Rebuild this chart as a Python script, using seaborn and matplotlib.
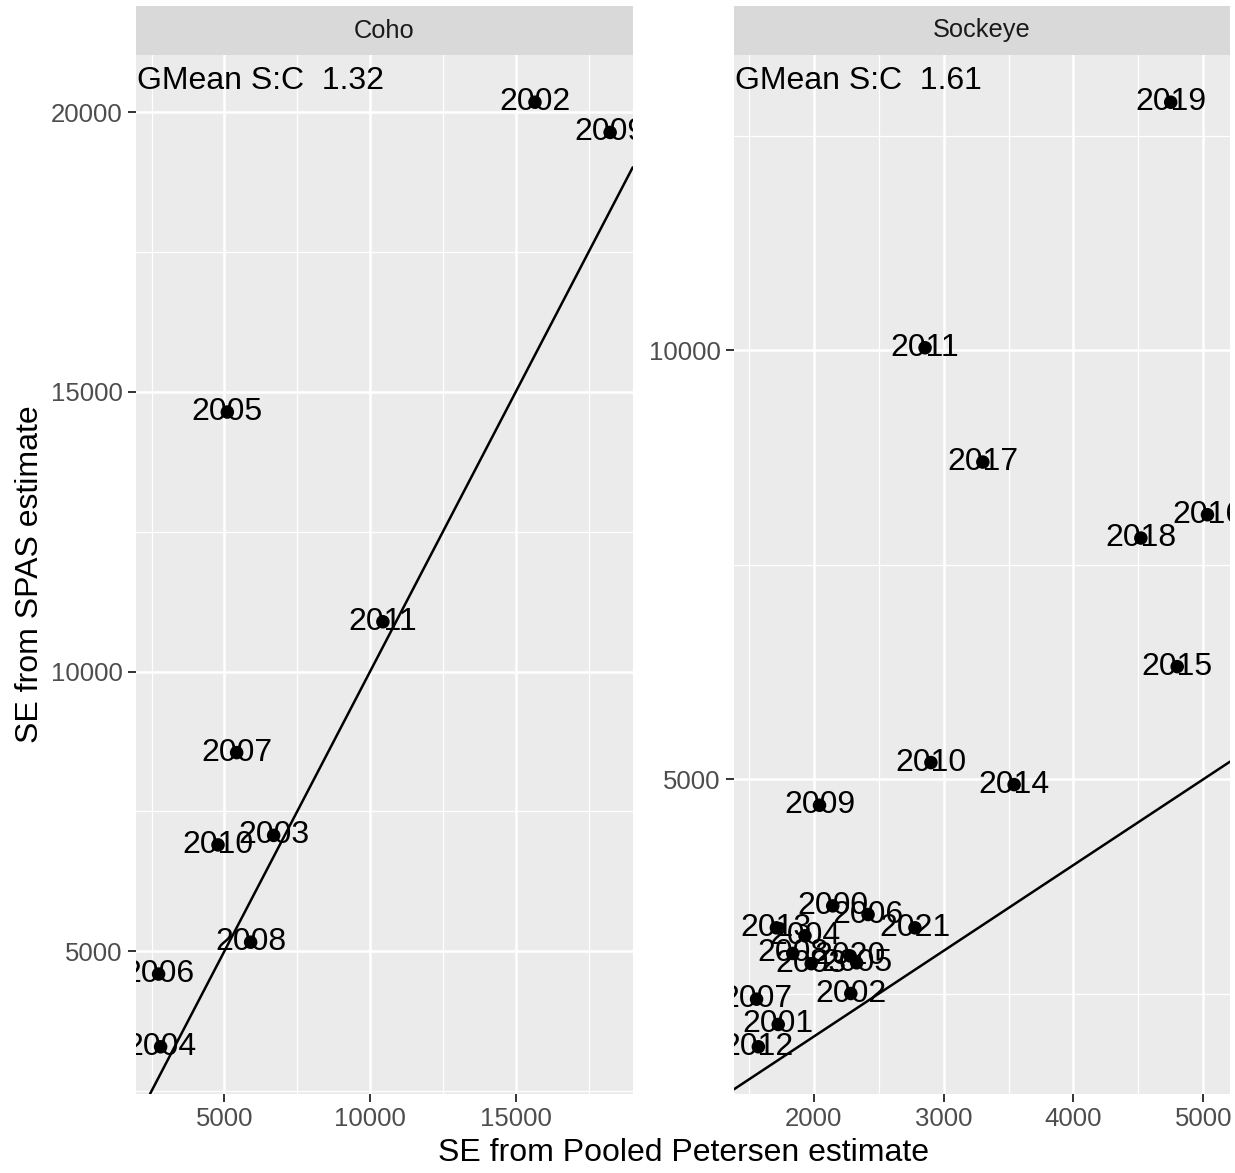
import matplotlib
matplotlib.use("Agg")
import matplotlib.pyplot as plt
import seaborn as sns
import pandas as pd
import numpy as np

# ---------------- data ----------------
coho_year = [2002, 2003, 2004, 2005, 2006, 2007, 2008, 2009, 2010, 2011]
coho_pp   = [15660, 6690, 2810, 5100, 2740, 5420, 5900, 18240, 4780, 10440]
coho_spas = [20180, 7070, 3290, 14640, 4590, 8550, 5160, 19640, 6900, 10890]

sock_year = [2000, 2001, 2002, 2003, 2004, 2005, 2006, 2007, 2008, 2009, 2010,
             2011, 2012, 2013, 2014, 2015, 2016, 2017, 2018, 2019, 2020, 2021]
sock_pp   = [2146, 1726, 2285, 1980, 1932, 2330, 2418, 1559, 1838, 2044, 2902,
             2857, 1573, 1712, 3543, 4799, 5032, 3302, 4519, 4749, 2280, 2779]
sock_spas = [3524, 2141, 2502, 2850, 3175, 2860, 3423, 2436, 2969, 4697, 5195,
             10032, 1881, 3268, 4938, 6314, 8085, 8699, 7813, 12895, 2940, 3268]

species = ["Coho", "Sockeye"]
gmean_text = ["GMean S:C  1.32", "GMean S:C  1.61"]

x_major = {"Coho": [5000, 10000, 15000], "Sockeye": [2000, 3000, 4000, 5000]}
x_minor = {"Coho": [2500, 7500, 12500, 17500], "Sockeye": [1500, 2500, 3500, 4500]}
y_major = {"Coho": [5000, 10000, 15000, 20000], "Sockeye": [5000, 10000]}
y_minor = {"Coho": [2500, 7500, 12500, 17500], "Sockeye": [2500, 7500, 12500]}

df = pd.concat([
    pd.DataFrame({"species": "Coho", "year": coho_year, "pp": coho_pp, "spas": coho_spas}),
    pd.DataFrame({"species": "Sockeye", "year": sock_year, "pp": sock_pp, "spas": sock_spas}),
], ignore_index=True)

# ---------------- figure ----------------
sns.set_theme(style="darkgrid")
plt.rcParams["font.family"] = ["Liberation Sans", "DejaVu Sans"]

W, H = 1235, 1173
fig = plt.figure(figsize=(W / 100, H / 100), dpi=100)
fig.patch.set_facecolor("white")

panel_top, panel_bot = 55, 1094
strip_top = 6
panels = {"Coho": (136, 632.7), "Sockeye": (734, 1230)}

def expand(v):
    lo, hi = min(v), max(v)
    r = hi - lo
    return lo - 0.05 * r, hi + 0.05 * r

for sp, gm in zip(species, gmean_text):
    x0, x1 = panels[sp]
    ax = fig.add_axes([x0 / W, 1 - panel_bot / H, (x1 - x0) / W, (panel_bot - panel_top) / H])
    sub = df[df["species"] == sp]
    ax.set_facecolor("#EBEBEB")
    for s in ax.spines.values():
        s.set_visible(False)

    ax.set_xlim(*expand(sub["pp"]))
    ax.set_ylim(*expand(sub["spas"]))
    ax.set_xticks(x_major[sp])
    ax.set_xticks(x_minor[sp], minor=True)
    ax.set_yticks(y_major[sp])
    ax.set_yticks(y_minor[sp], minor=True)
    ax.set_xticklabels([str(v) for v in x_major[sp]])
    ax.set_yticklabels([str(v) for v in y_major[sp]])
    ax.grid(which="major", color="white", linewidth=1.8)
    ax.grid(which="minor", color="white", linewidth=0.9)
    ax.set_axisbelow(True)
    ax.tick_params(which="major", length=5.5, width=1.4, color="#333333",
                   labelsize=18.5, labelcolor="#4D4D4D", pad=4,
                   bottom=True, left=True)
    ax.tick_params(which="minor", length=0)

    ax.axline((0, 0), slope=1, color="black", linewidth=1.8, zorder=2)
    sns.scatterplot(data=sub, x="pp", y="spas", ax=ax, color="black",
                    s=95, edgecolor="none", zorder=3, legend=False)
    for _, r in sub.iterrows():
        ax.text(r["pp"], r["spas"], str(r["year"]), ha="center", va="center",
                fontsize=23, color="black", clip_on=True, zorder=4)
    ax.annotate(gm, xy=(0, 1), xycoords="axes fraction", xytext=(1, -34),
                textcoords="offset pixels", ha="left", va="baseline",
                fontsize=23, color="black")
    ax.set_xlabel("")
    ax.set_ylabel("")

    # strip
    sax = fig.add_axes([x0 / W, 1 - panel_top / H, (x1 - x0) / W, (panel_top - strip_top) / H])
    sax.set_facecolor("#D9D9D9")
    sax.set_xticks([])
    sax.set_yticks([])
    for s in sax.spines.values():
        s.set_visible(False)
    sax.grid(False)
    sax.text(0.5, 0.5, sp, ha="center", va="center", fontsize=18.3,
             color="#1A1A1A", transform=sax.transAxes)

fig.text((136 + 1230) / 2 / W, 1 - 1153 / H, "SE from Pooled Petersen estimate",
         ha="center", va="center", fontsize=23, color="black")
fig.text(30 / W, 1 - ((panel_top + panel_bot) / 2) / H, "SE from SPAS estimate",
         ha="center", va="center", rotation=90, fontsize=23, color="black")

fig.savefig("out.png", dpi=100, facecolor="white")
